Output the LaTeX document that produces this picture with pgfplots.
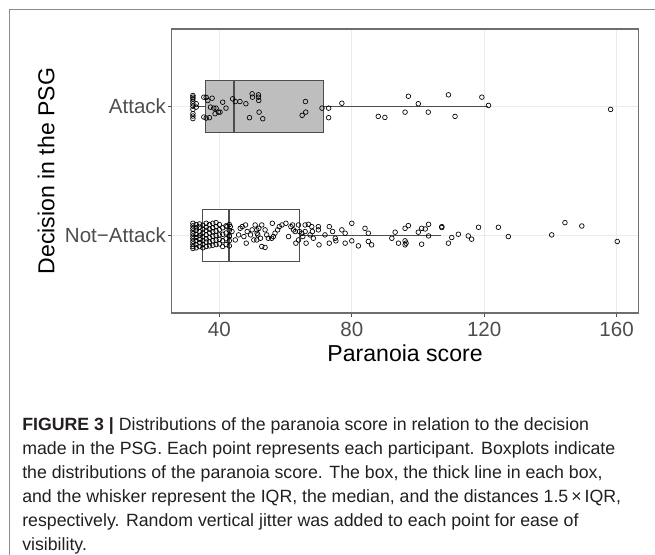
\documentclass[border=0pt]{standalone}
\usepackage{fontspec}
\setmainfont{Liberation Sans}
\usepackage{pgfplots}
\pgfplotsset{compat=1.18}
\usepgfplotslibrary{statistics}
\definecolor{gridc}{HTML}{EBEBEB}
\definecolor{boxc}{HTML}{4D4D4D}
\definecolor{tickc}{HTML}{4D4D4D}
\definecolor{panelc}{HTML}{6E6E6E}
\definecolor{framec}{HTML}{8C8C8C}
\definecolor{attackfill}{HTML}{BEBEBE}
\definecolor{captc}{HTML}{231F20}
\begin{document}
\begin{tikzpicture}
\useasboundingbox (0,0) rectangle (491.25pt,415.5pt);
\draw[framec, line width=0.8pt] (7pt,-5pt) -- (7pt,408.2pt) -- (500pt,408.2pt);
\begin{axis}[
  at={(128.8pt,180.75pt)}, anchor=south west,
  scale only axis, width=350pt, height=213pt,
  xmin=25.6, xmax=166.6, ymin=0.4, ymax=2.6,
  xtick={40,80,120,160}, ytick={1,2}, yticklabels={Not−Attack,Attack},
  tick pos=left, tick align=outside, major tick length=3pt,
  major tick style={tickc, line width=0.75pt},
  tick label style={font=\fontsize{15.4}{18}\selectfont, text=tickc},
  yticklabel style={xshift=2.2pt},
  /pgf/number format/assume math mode=true,
  grid=major, major grid style={gridc, line width=0.75pt},
  axis line style={panelc, line width=0.8pt},
  xlabel={Paranoia score}, ylabel={Decision in the PSG},
  label style={font=\fontsize{17.3}{20}\selectfont},
  xlabel style={at={(axis description cs:0.5,-0.1725)}, anchor=base},
  ylabel style={at={(axis description cs:-0.2514,0.5)}, anchor=base},
]
\addplot[boxplot prepared={lower whisker=32, lower quartile=35, median=42.9, upper quartile=64.1, upper whisker=107, draw position=1, box extend=0.4, whisker extend=0, draw direction=x}, draw=boxc, fill=white, line width=0.75pt, boxplot/every median/.style={line width=2pt}] coordinates {};
\addplot[boxplot prepared={lower whisker=32, lower quartile=35.9, median=44.4, upper quartile=71.5, upper whisker=121.3, draw position=2, box extend=0.4, whisker extend=0, draw direction=x}, draw=boxc, fill=attackfill, line width=0.75pt, boxplot/every median/.style={line width=2pt}] coordinates {};
% Attack points
\addplot[only marks, mark=o, mark size=1.75pt, mark options={line width=0.5pt}, black] table {
x y
32 2.085
32 2.072
32 2.059
32 2.041
32 2.021
32 2.002
32 1.977
32 1.944
32 1.926
32 1.906
33 2.021
33 1.995
35.3 2.072
36 2.070
36.5 2.046
35.3 1.918
36 1.910
37 1.913
37.8 2.064
37.3 1.995
38.3 1.987
39 1.987
38.7 1.944
39.7 1.956
40.2 1.956
41 2.033
42 1.987
44 2.059
44.8 2.038
46.2 2.038
48 2.021
49.1 1.913
49.9 2.098
50 2.072
51.8 2.090
51.8 2.072
51.9 2.046
52 1.956
53.1 1.905
66 2.038
66.1 1.956
65 1.931
71 1.987
73 1.987
73 1.913
77 2.025
88 1.923
90 1.915
96.1 1.956
97.1 2.079
100.1 2.021
103.1 1.956
109.2 2.090
111.2 1.923
119.3 2.072
121.3 2.008
158.2 1.977
};
% Not-Attack points
\addplot[only marks, mark=o, mark size=1.75pt, mark options={line width=0.5pt}, black] table {
x y
32 1.095
32 1.075
32 1.055
32 1.035
32 1.015
32 0.995
32 0.975
32 0.955
32 0.935
32 0.915
32 0.900
33 1.085
33 1.060
33 1.040
33 1.010
33 0.985
33 0.960
33 0.930
33 0.905
34 1.090
34 1.065
34 1.030
34 1.000
34 0.970
34 0.945
34 0.915
35 1.080
35 1.050
35 1.020
35 0.990
35 0.960
35 0.930
35 0.905
36 1.095
36 1.065
36 1.040
36 1.005
36 0.975
36 0.950
36 0.915
37 1.085
37 1.050
37 1.020
37 0.985
37 0.950
37 0.920
38 1.095
38 1.060
38 1.030
38 0.995
38 0.960
38 0.925
39 1.100
39 1.070
39 1.035
39 1.000
39 0.965
39 0.930
40 1.085
40 1.045
40 1.005
40 0.970
40 0.935
41 1.060
41 1.010
41 0.960
41 0.915
42 1.075
42 1.020
42 0.975
42 0.930
43 1.085
43 1.040
43 1.000
43 0.960
43 0.920
42.3 1.069
43.3 1.069
43.0 0.992
43.8 1.031
44.8 0.966
45.8 1.005
46.3 1.056
46.9 1.069
47.4 0.992
47.9 1.082
48.1 0.941
48.4 1.031
49.4 1.005
49.9 1.044
50.4 0.966
51.4 1.018
51.9 1.056
52.4 0.979
50.8 1.082
51.3 1.044
51.6 1.005
51.3 0.966
52.8 0.915
53.8 0.908
52.8 1.082
53.8 1.044
54.3 1.005
54.8 0.979
55.8 0.979
56.0 1.095
56.3 0.992
56.8 1.018
57.6 1.044
58.1 1.069
58.9 1.082
60.1 1.095
60.9 0.992
61.6 1.069
62.1 1.082
62.4 1.044
62.9 1.031
63.1 0.941
63.9 1.082
63.9 0.966
64.2 1.031
64.9 1.018
65.2 0.992
65.9 1.082
65.9 1.031
66.2 0.941
66.9 1.087
67.4 1.005
67.9 1.069
68.1 1.031
68.4 0.979
69.9 1.069
69.9 1.044
70.1 0.928
71.9 1.005
73.2 1.069
73.2 0.941
74.2 1.031
75.0 0.979
75.2 0.959
77.0 1.044
78.0 0.941
78.0 1.018
80.0 1.095
80.0 0.959
82.0 0.920
84.0 1.056
85.0 1.018
85.0 0.954
86.0 0.928
92.1 0.979
93.1 1.026
94.1 0.941
96.1 1.056
96.1 0.959
96.1 0.928
96.4 0.941
97.1 1.077
100.1 1.026
101.1 1.056
101.1 0.933
102.2 1.051
103.2 1.087
103.2 0.997
107.2 1.069
107.2 1.062
109.2 0.941
110.2 0.985
112.2 1.010
115.2 0.997
116.2 0.972
118.3 1.064
124.3 1.064
127.3 0.992
140.4 1.005
144.4 1.100
149.5 1.074
160.2 0.954
};
\end{axis}
\begin{scope}[every node/.style={anchor=base west, inner sep=0pt, text=captc, font=\fontsize{13.3}{15}\selectfont}]
\node at (16.5pt,93pt) {\textbf{FIGURE 3 |} Distributions of the paranoia score in relation to the decision};
\node at (16.5pt,74.9pt) {made in the PSG. Each point represents each participant. Boxplots indicate};
\node at (16.5pt,56.85pt) {the distributions of the paranoia score. The box, the thick line in each box,};
\node at (16.5pt,38.8pt) {and the whisker represent the IQR, the median, and the distances 1.5\,×\,IQR,};
\node at (16.5pt,20.7pt) {respectively. Random vertical jitter was added to each point for ease of};
\node at (16.5pt,2.6pt) {visibility.};
\end{scope}
\end{tikzpicture}
\end{document}
